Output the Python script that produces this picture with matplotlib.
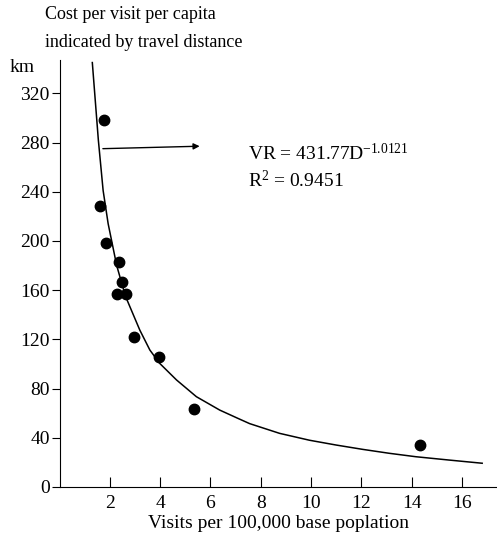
import matplotlib.pyplot as plt

plt.rcParams['font.family'] = ['Liberation Serif', 'DejaVu Serif']
plt.rcParams['mathtext.fontset'] = 'custom'
plt.rcParams['mathtext.rm'] = 'Liberation Serif'
plt.rcParams['mathtext.it'] = 'Liberation Serif:italic'
plt.rcParams['mathtext.bf'] = 'Liberation Serif:bold'

# observed points (visits per 100,000, km)
visits = [1.75, 1.6, 1.85, 2.35, 2.5, 2.3, 2.65, 2.95, 3.95, 5.35, 14.35]
km = [298, 228, 198, 183, 167, 157, 157, 122, 106, 63, 34]

# fitted curve as drawn
curve_x = [1.30, 1.54, 1.73, 1.93, 2.27, 2.62, 3.19, 3.59, 3.98, 4.65, 5.44,
           6.37, 7.09, 7.56, 8.75, 9.94, 11.0, 12.05, 13.11, 14.17, 15.49, 16.81]
curve_y = [345, 282, 241, 214, 180, 155, 127.5, 111.3, 100.5, 87, 73.4,
           62.5, 55.8, 51.5, 43.6, 38, 34.1, 30.6, 27.4, 24.6, 21.9, 19.3]

xticks = [2, 4, 6, 8, 10, 12, 14, 16]
yticks = [0, 40, 80, 120, 160, 200, 240, 280, 320]

fig = plt.figure(figsize=(4.97, 5.39), dpi=100)
ax = fig.add_axes([0.12, 0.0965, 0.88, 0.792])

ax.plot(curve_x, curve_y, color='black', lw=1.1)
ax.plot(visits, km, 'o', color='black', ms=7.5)

ax.annotate('', xy=(5.57, 277), xytext=(1.72, 275),
            arrowprops=dict(arrowstyle='-|>', color='black', lw=1.0,
                            mutation_scale=9, shrinkA=0, shrinkB=0))
ax.text(7.48, 271, r'VR = 431.77D$^{-1.0121}$', fontsize=14, va='center')
ax.text(7.48, 249, r'R$^2$ = 0.9451', fontsize=14, va='center')

ax.set_xlim(0, 17.4)
ax.set_ylim(0, 347)
ax.set_xticks(xticks)
ax.set_yticks(yticks)
ax.tick_params(axis='x', direction='in', length=7, labelsize=14, pad=6)
ax.tick_params(axis='y', direction='out', length=6, labelsize=14, pad=1)
ax.spines['top'].set_visible(False)
ax.spines['right'].set_visible(False)

fig.text(0.09, 0.974, 'Cost per visit per capita', fontsize=13, va='center')
fig.text(0.09, 0.922, 'indicated by travel distance', fontsize=13, va='center')
fig.text(0.02, 0.874, 'km', fontsize=14, va='center')
ax.set_xlabel('Visits per 100,000 base poplation', fontsize=14, labelpad=2)

fig.savefig('out.png', dpi=100)
